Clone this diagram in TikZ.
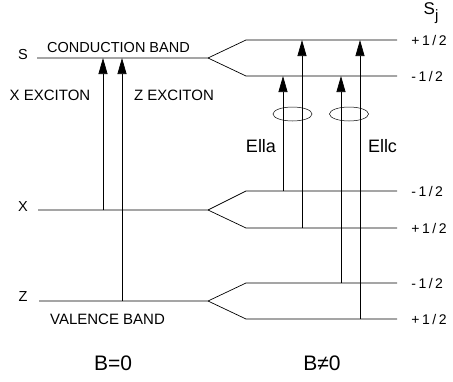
\documentclass[tikz,border=0pt]{standalone}
\usepackage{fontspec}
\setmainfont{Liberation Sans}
\usetikzlibrary{arrows.meta,shapes.geometric}

\begin{document}
\begin{tikzpicture}[x=1pt,y=-1pt,line width=0.7pt,
      lbl/.style={font=\fontsize{14.5}{16}\selectfont,inner sep=0pt},
      big/.style={font=\fontsize{21}{24}\selectfont,inner sep=0pt},
      spin/.style={font=\fontsize{14}{16}\selectfont\addfontfeature{LetterSpace=18},inner sep=0pt,anchor=west},
      exc/.style={-{Triangle[length=16pt,width=9pt]}},
      loop/.style={draw,ellipse,line width=0.5pt,minimum width=39pt,minimum height=14pt,inner sep=0pt}]
    \useasboundingbox (0,0) rectangle (453,381);
    % B=0 levels and their splitting
    \coordinate (s0) at (37,58);   \coordinate (s1) at (208,58);
    \coordinate (x0) at (38,210);  \coordinate (x1) at (208,210);
    \coordinate (z0) at (39,301);  \coordinate (z1) at (208,301);
    \coordinate (sp) at (246,40);  \coordinate (spe) at (397,40);
    \coordinate (sm) at (246,76);  \coordinate (sme) at (397,76);
    \coordinate (xm) at (246,191); \coordinate (xme) at (397,191);
    \coordinate (xp) at (246,228); \coordinate (xpe) at (397,228);
    \coordinate (zm) at (246,283); \coordinate (zme) at (397,283);
    \coordinate (zp) at (246,319); \coordinate (zpe) at (397,319);
    \draw (s0) -- (s1) -- (sp) -- (spe);
    \draw (s1) -- (sm) -- (sme);
    \draw (x0) -- (x1) -- (xm) -- (xme);
    \draw (x1) -- (xp) -- (xpe);
    \draw (z0) -- (z1) -- (zm) -- (zme);
    \draw (z1) -- (zp) -- (zpe);
    % transitions
    \draw[exc] (103,210) -- (103,58);
    \draw[exc] (122,301) -- (122,58);
    \draw[exc] (283,191) -- (283,76);
    \draw[exc] (302,228) -- (302,40);
    \draw[exc] (341,283) -- (341,76);
    \draw[exc] (360,319) -- (360,40);
    \node[loop] (pola) at (292.5,114) {};
    \node[loop] (polc) at (349,114) {};
    % labels
    \node[lbl] (sl) at (23,55) {S};
    \node[lbl] (xl) at (23,207) {X};
    \node[lbl] (zl) at (23,297) {Z};
    \node[lbl] (cb) at (118.5,48) {CONDUCTION BAND};
    \node[lbl,font=\fontsize{15}{17}\selectfont] (vb) at (107.5,319) {VALENCE BAND};
    \node[lbl,font=\fontsize{15}{17}\selectfont] (xe) at (50,95) {X EXCITON};
    \node[lbl,font=\fontsize{15}{17}\selectfont] (ze) at (174,95) {Z EXCITON};
    \node[lbl,font=\fontsize{18}{20}\selectfont] (ea) at (261,146) {Ella};
    \node[lbl,font=\fontsize{18}{20}\selectfont] (ec) at (382.5,146) {Ellc};
    \node[big] (b0) at (113,363) {B=0};
    \node[big] (b1) at (322,363) {B≠0};
    \node[lbl,font=\fontsize{17}{19}\selectfont] (sj) at (431,13) {S\raisebox{-0.75ex}{\fontsize{15}{17}\selectfont j}};
    \node[spin] at (411,40) {+1/2};
    \node[spin] at (411,76) {-1/2};
    \node[spin] at (411,191) {-1/2};
    \node[spin] at (411,228) {+1/2};
    \node[spin] at (411,283) {-1/2};
    \node[spin] at (411,319) {+1/2};
\end{tikzpicture}
\end{document}
